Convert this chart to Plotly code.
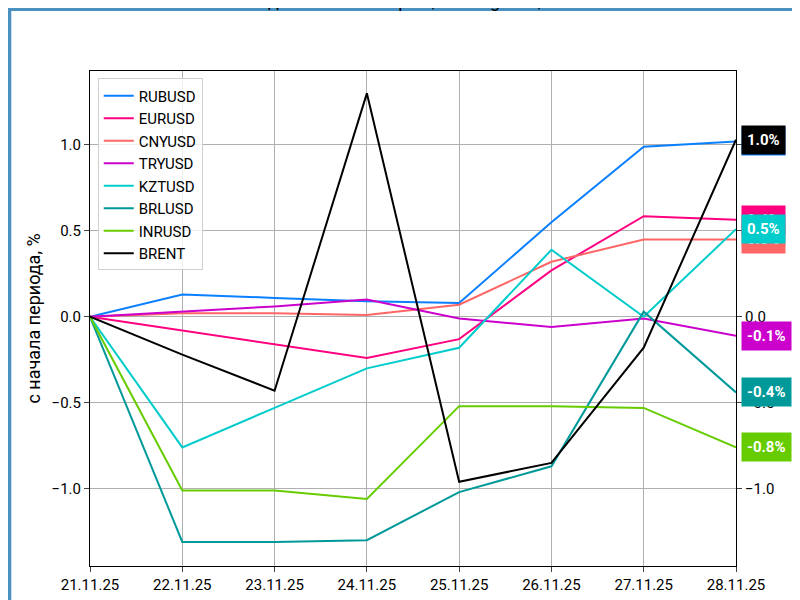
import plotly.graph_objects as go

dates = ["21.11.25","22.11.25","23.11.25","24.11.25","25.11.25","26.11.25","27.11.25","28.11.25"]
names = ["RUBUSD","EURUSD","CNYUSD","TRYUSD","KZTUSD","BRLUSD","INRUSD","BRENT"]
rub = [0, 0.13, 0.11, 0.09, 0.08, 0.55, 0.99, 1.02]
eur = [0, -0.08, -0.16, -0.24, -0.13, 0.27, 0.585, 0.565]
cny = [0, 0.02, 0.02, 0.01, 0.07, 0.32, 0.45, 0.45]
tryy = [0, 0.03, 0.06, 0.10, -0.01, -0.06, -0.01, -0.11]
kzt = [0, -0.76, -0.53, -0.30, -0.18, 0.39, 0.0, 0.51]
brl = [0, -1.31, -1.31, -1.30, -1.02, -0.87, 0.03, -0.44]
inr = [0, -1.01, -1.01, -1.06, -0.52, -0.52, -0.53, -0.76]
brent = [0, -0.22, -0.43, 1.30, -0.96, -0.85, -0.18, 1.03]
series = [rub, eur, cny, tryy, kzt, brl, inr, brent]
colors = ["#0a7fff","#ff0080","#ff6666","#cc00cc","#00cccc","#009999","#66cc00","#000000"]

fig = go.Figure()
xi = list(range(len(dates)))
for n, s, c in zip(names, series, colors):
    fig.add_trace(go.Scatter(x=xi, y=s, name=n, mode="lines", line=dict(color=c, width=2)))
fig.add_trace(go.Scatter(x=[0], y=[0], yaxis="y2", showlegend=False, mode="markers",
                         marker=dict(opacity=0), hoverinfo="skip"))

for n, s, c in zip(names, series, colors):
    fig.add_annotation(x=1, xref="paper", xanchor="left", xshift=5, y=s[-1], yref="y",
                       text=f"<b>{s[-1]:.1f}%</b>", showarrow=False, bgcolor=c,
                       font=dict(color="white", size=15, family="Roboto"), borderpad=5)

L, R, T, B = 82, 72, 63, 42
W, H = 800 - L - R, 600 - T - B
fig.add_shape(type="rect", xref="paper", yref="paper",
              x0=-L/W + 0.002, x1=1 + R/W - 0.002, y0=-B/H + 0.002, y1=1 + T/H - 0.002,
              line=dict(color="#4a90c0", width=4))
fig.add_annotation(xref="paper", yref="paper", x=0.5, y=1 + 58/H, xanchor="center", yanchor="bottom",
                   showarrow=False, font=dict(size=18),
                   text="Валюта за период с 21.11.2025 по 28.11.2025<br>Источники данных: МосБиржа, TradingView, Yahoo Finace")

yr = [-1.45, 1.43]
ticktext = ["−1.0","−0.5","0.0","0.5","1.0"]
fig.update_layout(
    width=800, height=600, margin=dict(l=L, r=R, t=T, b=B, autoexpand=False),
    paper_bgcolor="white", plot_bgcolor="white",
    font=dict(family="Roboto", size=15, color="black"),
    xaxis=dict(tickvals=xi, ticktext=dates, range=[0, 7], showgrid=True, gridcolor="#b0b0b0",
               showline=True, mirror=True, linecolor="black", ticks="outside", zeroline=False,
               automargin=False),
    yaxis=dict(range=yr, tickvals=[-1, -0.5, 0, 0.5, 1], ticktext=ticktext,
               showgrid=True, gridcolor="#b0b0b0", showline=True, mirror=True, linecolor="black",
               ticks="outside", zeroline=False, automargin=False,
               title=dict(text="с начала периода, %", standoff=6)),
    yaxis2=dict(range=yr, overlaying="y", side="right", tickvals=[-1, -0.5, 0, 0.5, 1],
                ticktext=ticktext, showgrid=False, ticks="outside", zeroline=False, automargin=False),
    legend=dict(x=0.012, y=0.985, xanchor="left", yanchor="top", bordercolor="#d0d0d0", borderwidth=1,
                bgcolor="rgba(255,255,255,0.8)", font=dict(size=15), tracegroupgap=0),
    showlegend=True,
)
fig.write_html("out.html")
